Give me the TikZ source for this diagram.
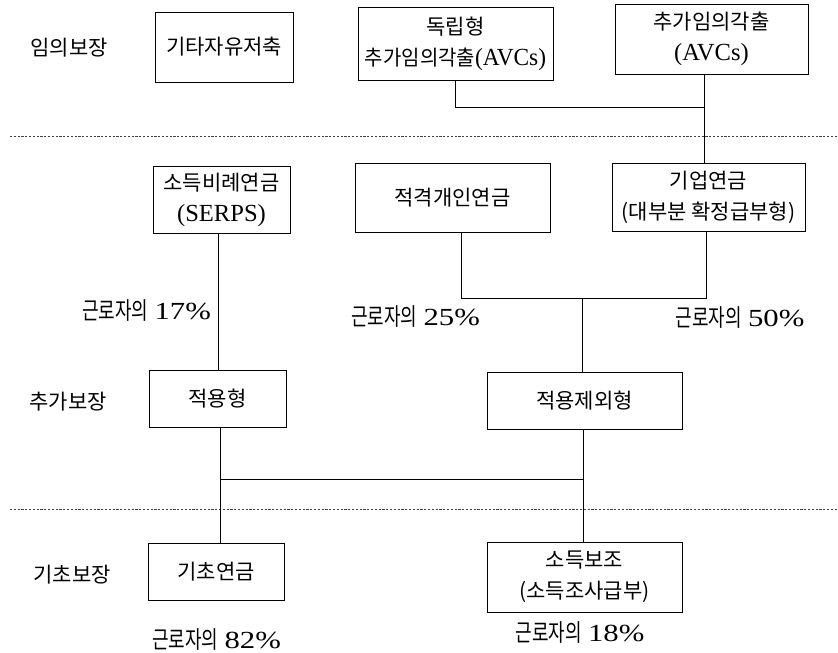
\documentclass[tikz,border=0pt]{standalone}
\usepackage{graphicx}
\usepackage{fontspec}
\setmainfont{Liberation Serif}[Scale=1.17]
\newfontfamily\kr{Noto Sans CJK KR}
% condensed Hangul and wide figures for the coverage shares
\newcommand{\krn}[1]{\scalebox{0.75}[1]{\fontsize{24}{30}\selectfont\kr #1}}
\newcommand{\share}[1]{\krn{근로자의} \scalebox{1.25}[1]{#1\%}}
\begin{document}
\begin{tikzpicture}[x=1pt,y=-1pt,
  every node/.style={font=\fontsize{21}{31}\selectfont, inner sep=0pt},
  pbox/.style={draw, line width=0.8pt, rectangle, align=center},
  link/.style={line width=0.8pt},
  tier/.style={line width=0.7pt, dash pattern=on 2.2pt off 1.6pt, black!75}]
\useasboundingbox (0,0) rectangle (838,653);

% tier separators
\coordinate (s1a) at (10,136);  \coordinate (s1b) at (838,136);
\coordinate (s2a) at (10,509);  \coordinate (s2b) at (838,509);
\draw[tier] (s1a) -- (s1b);
\draw[tier] (s2a) -- (s2b);

% tier labels
\node (t1) at (69,48)  {\kr 임의보장};
\node (t2) at (68,402) {\kr 추가보장};
\node (t3) at (72,575) {\kr 기초보장};

% voluntary tier
\node[pbox, minimum width=138, minimum height=70] (b1) at (224,47) {\kr 기타자유저축};
\node[pbox, minimum width=195, minimum height=73] (b2) at (455.5,43.5) {{\kr 독립형}\\\scalebox{0.95}[1]{{\kr 추가임의각출}(AVCs)}};
\node[pbox, minimum width=193, minimum height=70] (b3) at (711.5,39) {{\kr 추가임의각출}\\(AVCs)};

% supplementary tier
\node[pbox, minimum width=137, minimum height=67] (b4) at (221.5,199.5) {{\kr 소득비례연금}\\(SERPS)};
\node[pbox, minimum width=195, minimum height=69] (b5) at (452.5,197.5) {\kr 적격개인연금};
\node[pbox, minimum width=193, minimum height=68] (b6) at (708.5,197) {{\kr 기업연금}\\{\kr (대부분 확정급부형)}};

\node[pbox, minimum width=137, minimum height=57] (b7) at (217.5,398.5) {\kr 적용형};
\node[pbox, minimum width=195, minimum height=57] (b8) at (584.5,400.5) {\kr 적용제외형};

% basic tier
\node[pbox, minimum width=136, minimum height=57] (b9) at (216,571.5) {\kr 기초연금};
\node[pbox, minimum width=195, minimum height=70] (b10) at (584.5,577) {{\kr 소득보조}\\{\kr (소득조사급부)}};

% coverage shares
\node (p17) at (146.5,311) {\share{17}};
\node (p25) at (415.5,317) {\share{25}};
\node (p50) at (740,318) {\share{50}};
\node (p82) at (216.5,640) {\share{82}};
\node (p18) at (580,633) {\share{18}};

% connectors
\coordinate (j1) at (704,107);
\draw[link] (b2.south) |- (j1);
\draw[link] ([xshift=-7.5pt]b3.south) -- ([xshift=-4.5pt]b6.north);

\coordinate (j2) at (706,298);
\coordinate (j3) at (582,298);
\draw[link] ([xshift=8.5pt]b5.south) |- (j2) -- ([xshift=-2.5pt]b6.south);
\draw[link] (j3) -- ([xshift=-2.5pt]b8.north);

\draw[link] ([xshift=-3.5pt]b4.south) -- ([xshift=0.5pt]b7.north);

\coordinate (j4) at (220,479);
\coordinate (j5) at (583,479);
\draw[link] ([xshift=2.5pt]b7.south) -- ([xshift=4pt]b9.north);
\draw[link] ([xshift=-1.5pt]b8.south) -- ([xshift=-1.5pt]b10.north);
\draw[link] (j4) -- (j5);
\end{tikzpicture}
\end{document}
